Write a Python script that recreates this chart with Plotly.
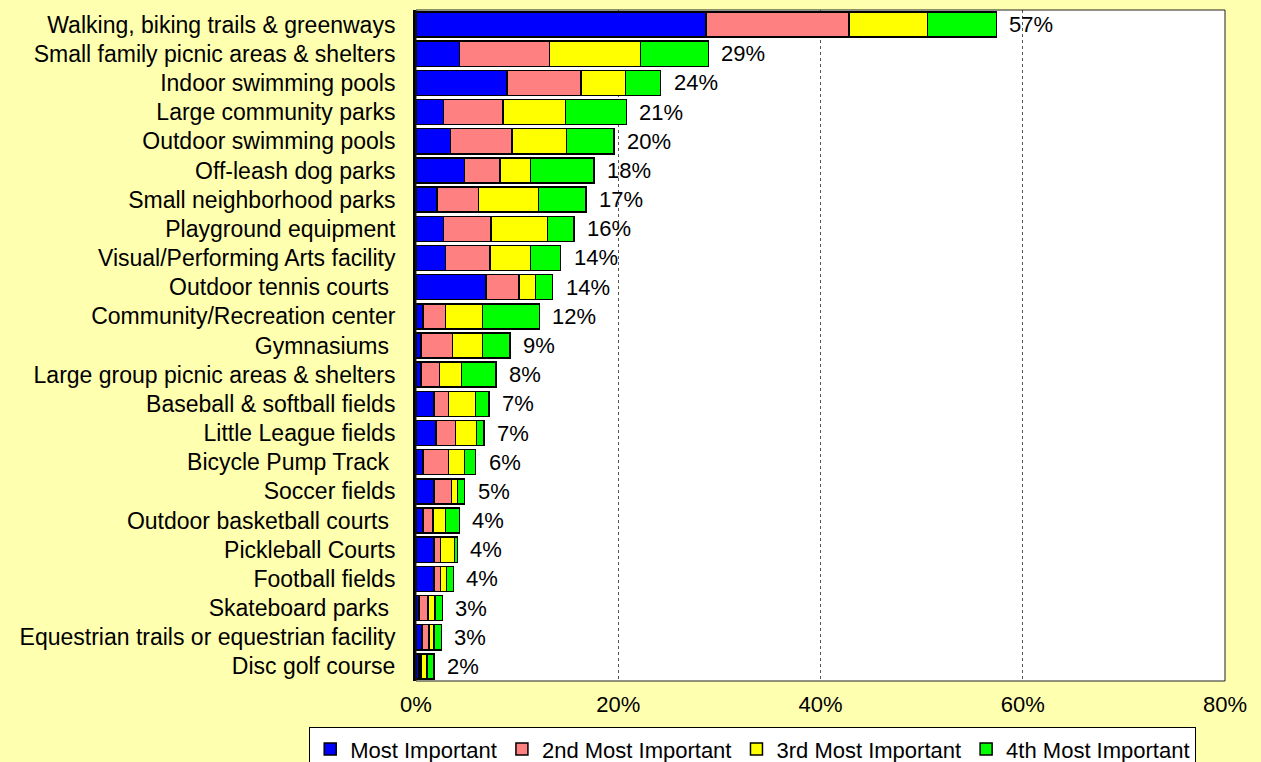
import plotly.graph_objects as go

categories = [
    "Walking, biking trails & greenways",
    "Small family picnic areas & shelters",
    "Indoor swimming pools",
    "Large community parks",
    "Outdoor swimming pools",
    "Off-leash dog parks",
    "Small neighborhood parks",
    "Playground equipment",
    "Visual/Performing Arts facility",
    "Outdoor tennis courts ",
    "Community/Recreation center",
    "Gymnasiums ",
    "Large group picnic areas & shelters",
    "Baseball & softball fields",
    "Little League fields",
    "Bicycle Pump Track ",
    "Soccer fields",
    "Outdoor basketball courts ",
    "Pickleball Courts",
    "Football fields",
    "Skateboard parks ",
    "Equestrian trails or equestrian facility",
    "Disc golf course",
]

most_important = [28.7, 4.3, 9.0, 2.7, 3.4, 4.8, 2.1, 2.7, 2.9, 6.9, 0.7, 0.5, 0.5,
                  1.8, 2.0, 0.7, 1.8, 0.7, 1.8, 1.8, 0.3, 0.6, 0.3]
second_important = [14.1, 8.9, 7.3, 5.9, 6.1, 3.5, 4.1, 4.7, 4.4, 3.3, 2.2, 3.1, 1.8,
                    1.4, 1.9, 2.5, 1.7, 1.0, 0.6, 0.6, 0.9, 0.7, 0.2]
third_important = [7.8, 9.0, 4.4, 6.2, 5.4, 3.0, 5.9, 5.6, 4.0, 1.6, 3.7, 3.0, 2.2,
                   2.7, 2.1, 1.6, 0.6, 1.2, 1.4, 0.6, 0.7, 0.5, 0.6]
fourth_important = [6.8, 6.7, 3.5, 6.0, 4.7, 6.3, 4.7, 2.6, 3.0, 1.7, 5.6, 2.7, 3.4,
                    1.3, 0.7, 1.1, 0.7, 1.4, 0.3, 0.7, 0.7, 0.7, 0.7]
total_labels = ["57%", "29%", "24%", "21%", "20%", "18%", "17%", "16%", "14%", "14%",
                "12%", "9%", "8%", "7%", "7%", "6%", "5%", "4%", "4%", "4%", "3%",
                "3%", "2%"]

series_names = ["Most Important", "2nd Most Important", "3rd Most Important", "4th Most Important"]
series_values = [most_important, second_important, third_important, fourth_important]
series_colors = ["#0000FF", "#FF8080", "#FFFF00", "#00FF00"]

x_ticks = [0, 20, 40, 60, 80]
x_tick_labels = ["0%", "20%", "40%", "60%", "80%"]

FONT = "Liberation Sans, Arial, sans-serif"

fig = go.Figure()
for name, vals, col in zip(series_names, series_values, series_colors):
    fig.add_trace(go.Bar(
        y=categories, x=vals, name=name, orientation="h",
        marker=dict(color=col, line=dict(color="black", width=1.5)),
        width=0.86,
    ))

totals = [a + b + c + d for a, b, c, d in zip(*series_values)]
for cat, tot, lab in zip(categories, totals, total_labels):
    fig.add_annotation(x=tot, y=cat, text=lab, showarrow=False, xanchor="left",
                       xshift=11, font=dict(family=FONT, size=22, color="black"))

fig.add_shape(type="rect", xref="x domain", yref="y domain", x0=0, x1=1, y0=0, y1=1,
              line=dict(color="#202020", width=1), layer="above")

fig.update_layout(
    width=1261, height=762,
    barmode="stack",
    bargap=0.14,
    paper_bgcolor="#FFFFB0",
    plot_bgcolor="white",
    margin=dict(l=416, r=36, t=10, b=81, autoexpand=False),
    font=dict(family=FONT, size=22, color="black"),
    showlegend=True,
    legend=dict(
        orientation="h",
        x=-0.132, xanchor="left", y=-0.069, yanchor="top",
        bgcolor="white", bordercolor="black", borderwidth=1,
        font=dict(family=FONT, size=22, color="black"),
        itemwidth=30, tracegroupgap=0, traceorder="normal",
    ),
    xaxis=dict(
        range=[0, 80], tickvals=x_ticks, ticktext=x_tick_labels,
        showgrid=True, gridcolor="#555555", griddash="dot", gridwidth=1,
        zeroline=False, showline=False, ticks="",
        ticklabelstandoff=8,
        tickfont=dict(family=FONT, size=22),
    ),
    yaxis=dict(
        categoryorder="array", categoryarray=categories, autorange="reversed",
        showline=True, linecolor="black", linewidth=3, ticks="",
        ticklabelstandoff=13,
        tickfont=dict(family=FONT, size=23),
        showgrid=False,
    ),
)

fig.write_html("out.html", config={"displayModeBar": False},
               post_script="document.body.style.margin='0';")
